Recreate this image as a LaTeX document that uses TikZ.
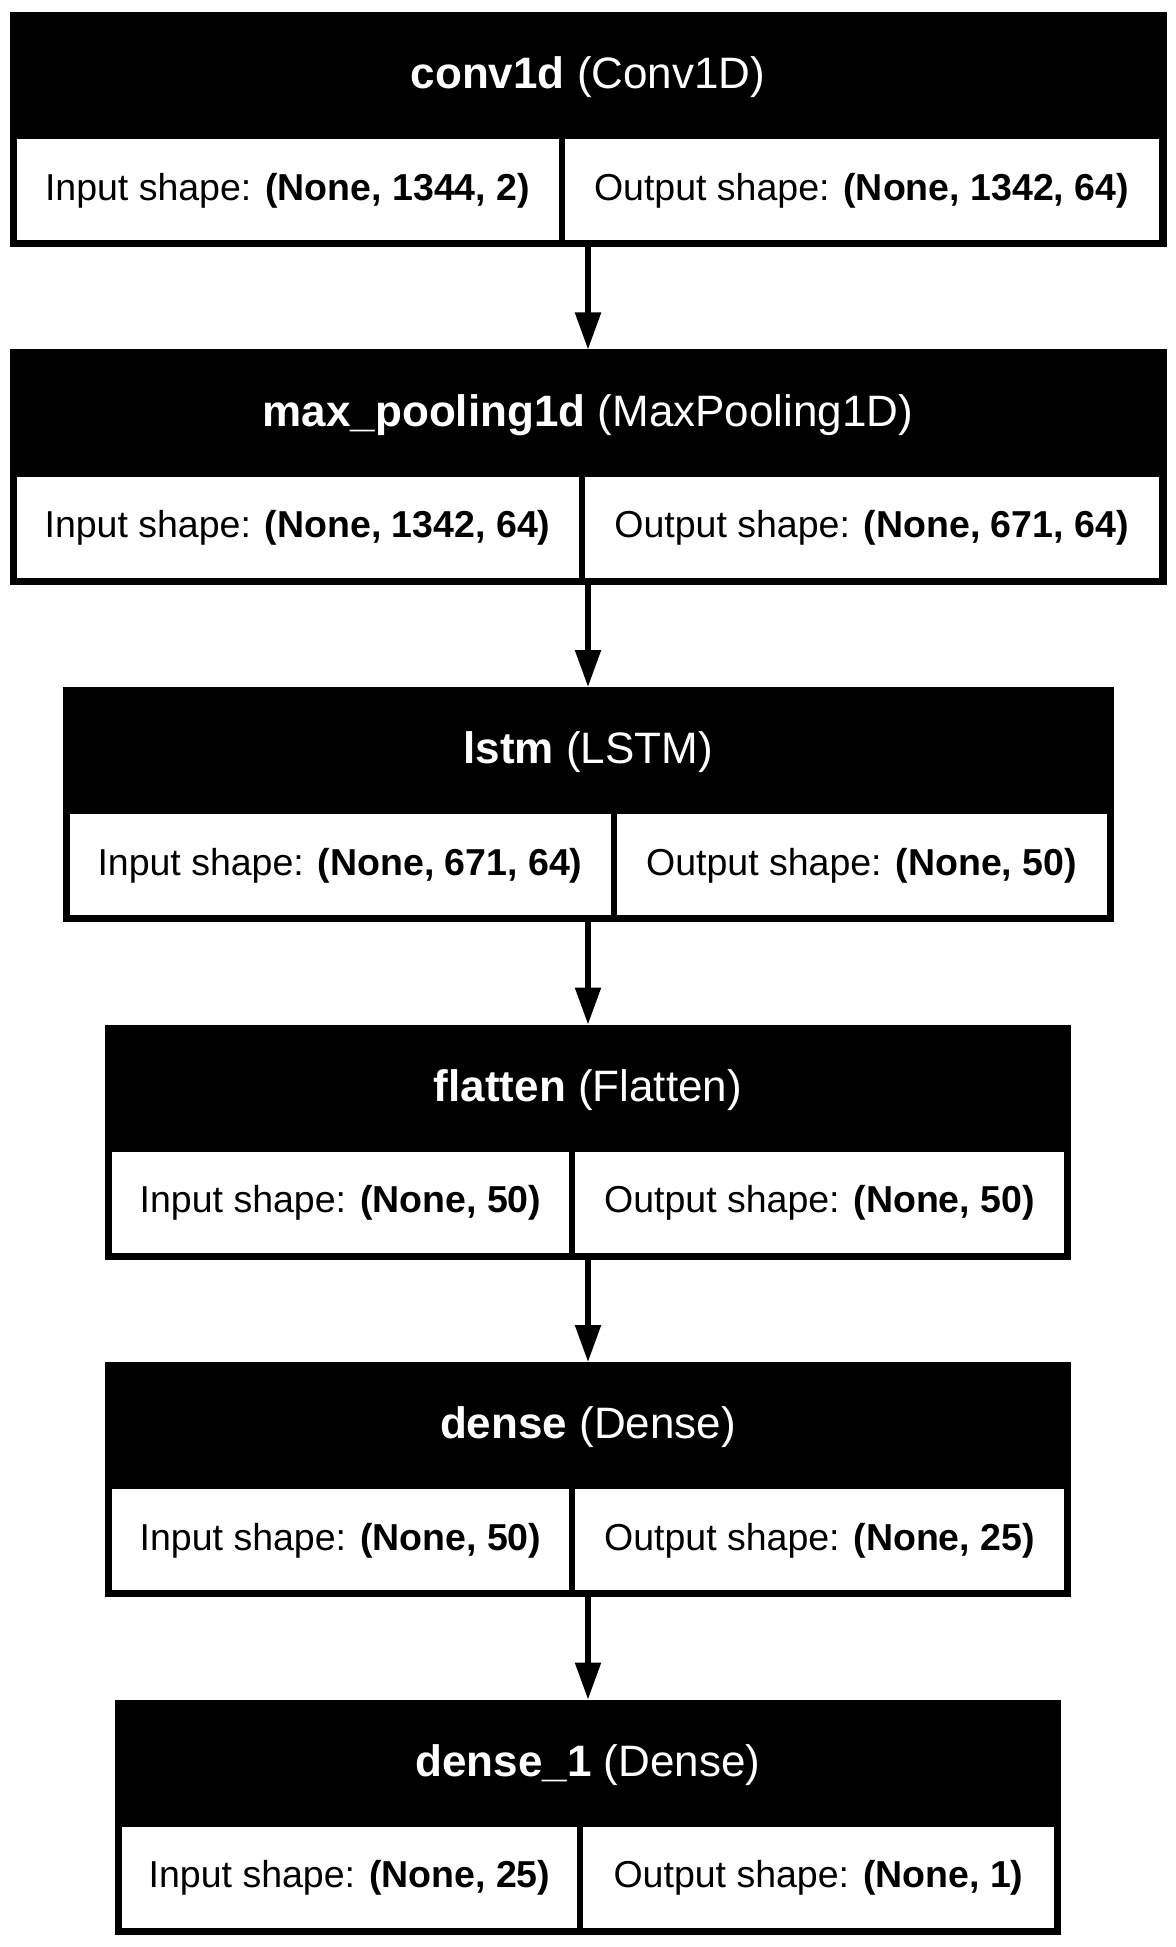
\documentclass[tikz,border=0pt]{standalone}
\usepackage{fontspec}
\setmainfont{Liberation Sans}
\usetikzlibrary{arrows.meta}
\usetikzlibrary{positioning}
\tikzset{%
  >={Triangle[width=12.5pt,length=18.5pt]},
  % Specifications for style of nodes:
            layer/.style = {rectangle, fill=black, draw=none,
                           inner sep=0pt, outer sep=0pt,
                           minimum height=117.5pt},
            headtext/.style = {text=white, inner sep=0pt,
                           font=\fontsize{22}{26}\selectfont},
            cell/.style = {rectangle, fill=white, draw=none,
                           inner sep=0pt, outer sep=0pt,
                           minimum height=50.5pt, text depth=3pt,
                           font=\fontsize{18.75}{22}\selectfont},
            link/.style = {->, line width=2.7pt}
}

\begin{document}
\begin{tikzpicture}[node distance=51.25pt]
  \useasboundingbox (0,0) rectangle (588pt,-973.5pt);
  % Specification of layer blocks (position, etc.)
  \node (conv)    [layer, minimum width=578.5pt, anchor=north] at (294pt,-6pt) {};
  \node (pool)    [layer, minimum width=578.5pt, below = of conv] {};
  \node (lstm)    [layer, minimum width=525.5pt, below = of pool] {};
  \node (flat)    [layer, minimum width=483pt, below = of lstm] {};
  \node (dense)   [layer, minimum width=483pt, below = of flat] {};
  \node (denseb)  [layer, minimum width=473pt, below = of dense] {};
  % Titles
  \node (convhead)   [headtext, yshift=-32.75pt] at (conv.north) {\textbf{conv1d} (Conv1D)};
  \node (poolhead)   [headtext, yshift=-32.75pt] at (pool.north) {\textbf{max\_pooling1d} (MaxPooling1D)};
  \node (lstmhead)   [headtext, yshift=-32.75pt] at (lstm.north) {\textbf{lstm} (LSTM)};
  \node (flathead)   [headtext, yshift=-32.75pt] at (flat.north) {\textbf{flatten} (Flatten)};
  \node (densehead)  [headtext, yshift=-32.75pt] at (dense.north) {\textbf{dense} (Dense)};
  \node (densebhead) [headtext, yshift=-32.75pt] at (denseb.north) {\textbf{dense\_1} (Dense)};
  % Shape cells
  \node (convin)    [cell, minimum width=271pt, above right=3.5pt and 3.5pt of conv.south west]{Input shape: \textbf{(None, 1344, 2)}};
  \node (convout)   [cell, minimum width=297pt, right=3pt of convin]{Output shape: \textbf{(None, 1342, 64)}};
  \node (poolin)    [cell, minimum width=281pt, above right=3.5pt and 3.5pt of pool.south west]{Input shape: \textbf{(None, 1342, 64)}};
  \node (poolout)   [cell, minimum width=287pt, right=3pt of poolin]{Output shape: \textbf{(None, 671, 64)}};
  \node (lstmin)    [cell, minimum width=270.5pt, above right=3.5pt and 3.5pt of lstm.south west]{Input shape: \textbf{(None, 671, 64)}};
  \node (lstmout)   [cell, minimum width=245pt, right=3pt of lstmin]{Output shape: \textbf{(None, 50)}};
  \node (flatin)    [cell, minimum width=228.5pt, above right=3.5pt and 3.5pt of flat.south west]{Input shape: \textbf{(None, 50)}};
  \node (flatout)   [cell, minimum width=244.5pt, right=3pt of flatin]{Output shape: \textbf{(None, 50)}};
  \node (densein)   [cell, minimum width=228.5pt, above right=3.5pt and 3.5pt of dense.south west]{Input shape: \textbf{(None, 50)}};
  \node (denseout)  [cell, minimum width=244.5pt, right=3pt of densein]{Output shape: \textbf{(None, 25)}};
  \node (densebin)  [cell, minimum width=227.5pt, above right=3.5pt and 3.5pt of denseb.south west]{Input shape: \textbf{(None, 25)}};
  \node (densebout) [cell, minimum width=235.5pt, right=3pt of densebin]{Output shape: \textbf{(None, 1)}};
  % Connectors
  \draw[link] (conv) -- (pool);
  \draw[link] (pool) -- (lstm);
  \draw[link] (lstm) -- (flat);
  \draw[link] (flat) -- (dense);
  \draw[link] (dense) -- (denseb);
\end{tikzpicture}
\end{document}
